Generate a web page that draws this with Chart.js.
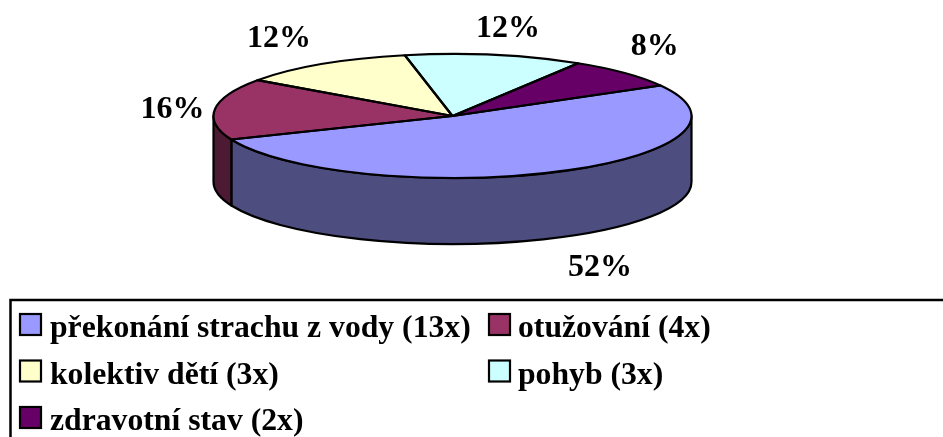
<!DOCTYPE html>
<html>
<head>
<meta charset="utf-8">
<style>
    html, body { margin: 0; padding: 0; background: #fff; }
    canvas { display: block; }
</style>
<script src="https://cdn.jsdelivr.net/npm/chart.js@4/dist/chart.umd.min.js"></script>
</head>
<body>
<canvas id="graf" width="943" height="437"></canvas>
<script>
const kategorie = ['překonání strachu z vody (13x)', 'otužování (4x)', 'kolektiv dětí (3x)', 'pohyb (3x)', 'zdravotní stav (2x)'];
const hodnoty = [13, 4, 3, 3, 2];
const barvy = ['#9999FF', '#993366', '#FFFFCC', '#CCFFFF', '#660066'];
const barvyBoku = ['#4D4D80', '#4D1A33', '#808066', '#668080', '#330033'];

// tvar "3D" koláče
const rx = 239, ry = 62, hloubka = 66;
const FONT_POPISEK = 'bold 32px "Liberation Serif"';
const FONT_LEGENDA = 'bold 31.7px "Liberation Serif"';
// posun popisku od okraje výseče
const posunPopisku = [[43, 104], [-42.5, 9], [-43, -17], [13.5, -18], [30, -18]];

const pie3d = {
    id: 'pie3d',
    beforeDatasetsDraw(chart) {
        const { ctx } = chart;
        const arcs = chart.getDatasetMeta(0).data;
        const cx = arcs[0].x, cy = arcs[0].y;
        const r = arcs[0].outerRadius;

        // boční stěna, jen přední polovina
        ctx.save();
        ctx.lineWidth = 2.2;
        ctx.strokeStyle = '#000';
        ctx.lineJoin = 'round';
        arcs.forEach((arc, i) => {
            [0, -2 * Math.PI].forEach(k => {
                const a = Math.max(arc.startAngle + k, 0);
                const b = Math.min(arc.endAngle + k, Math.PI);
                if (b <= a) return;
                ctx.beginPath();
                ctx.ellipse(cx, cy, rx, ry, 0, a, b);
                ctx.ellipse(cx, cy + hloubka, rx, ry, 0, b, a, true);
                ctx.closePath();
                ctx.fillStyle = barvyBoku[i];
                ctx.fill();
                ctx.stroke();
            });
        });
        ctx.restore();

        // horní plochu kreslí Chart.js, jen ji zploštíme
        ctx.save();
        ctx.translate(cx, cy);
        ctx.scale(rx / r, ry / r);
        ctx.translate(-cx, -cy);
    },
    afterDatasetsDraw(chart) {
        const { ctx } = chart;
        ctx.restore();

        const arcs = chart.getDatasetMeta(0).data;
        const cx = arcs[0].x, cy = arcs[0].y;
        const total = hodnoty.reduce((a, b) => a + b, 0);

        ctx.save();
        ctx.lineWidth = 2.2;
        ctx.strokeStyle = '#000';
        ctx.lineJoin = 'round';
        arcs.forEach(arc => {
            ctx.beginPath();
            ctx.moveTo(cx, cy);
            ctx.ellipse(cx, cy, rx, ry, 0, arc.startAngle, arc.endAngle);
            ctx.closePath();
            ctx.stroke();
        });

        // popisky procent
        ctx.font = FONT_POPISEK;
        ctx.fillStyle = '#000';
        ctx.textAlign = 'center';
        ctx.textBaseline = 'alphabetic';
        arcs.forEach((arc, i) => {
            const mid = (arc.startAngle + arc.endAngle) / 2;
            const x = cx + rx * Math.cos(mid) + posunPopisku[i][0];
            const y = cy + ry * Math.sin(mid) + posunPopisku[i][1];
            ctx.fillText(Math.round(hodnoty[i] / total * 100) + '%', x, y);
        });
        ctx.restore();
    },
    afterDraw(chart) {
        const { ctx, width, height } = chart;
        ctx.save();

        // rámeček legendy
        ctx.lineWidth = 2.5;
        ctx.strokeStyle = '#000';
        ctx.beginPath();
        ctx.moveTo(10.5, height + 5);
        ctx.lineTo(10.5, 300);
        ctx.lineTo(width + 5, 300);
        ctx.stroke();

        // legenda, dva sloupce
        ctx.font = FONT_LEGENDA;
        ctx.textAlign = 'left';
        ctx.textBaseline = 'alphabetic';
        kategorie.forEach((text, i) => {
            const sloupec = i % 2, radek = Math.floor(i / 2);
            const x = sloupec ? 489 : 20;
            const y = 314 + radek * 46.5;
            ctx.fillStyle = barvy[i];
            ctx.fillRect(x, y, 21, 21);
            ctx.lineWidth = 2.2;
            ctx.strokeRect(x, y, 21, 21);
            ctx.fillStyle = '#000';
            ctx.fillText(text, x + (sloupec ? 29 : 30), y + 23);
        });
        ctx.restore();
    }
};

new Chart(document.getElementById('graf').getContext('2d'), {
    type: 'pie',
    data: {
        labels: kategorie,
        datasets: [{
            data: hodnoty,
            backgroundColor: barvy,
            borderWidth: 0,
            clip: false
        }]
    },
    options: {
        responsive: false,
        animation: false,
        rotation: 60.5,
        layout: { padding: { right: 38, bottom: 205 } },
        plugins: {
            legend: { display: false },
            tooltip: { enabled: false }
        }
    },
    plugins: [pie3d]
});
</script>
</body>
</html>
